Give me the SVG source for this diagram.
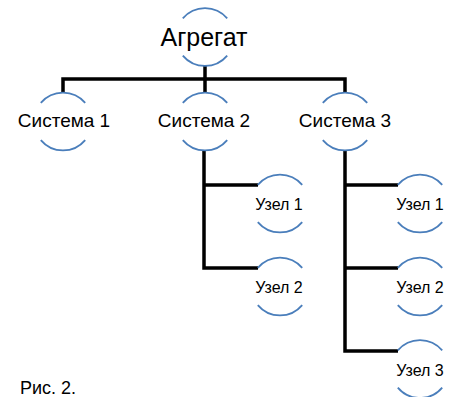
<svg xmlns="http://www.w3.org/2000/svg" width="453" height="397" viewBox="0 0 453 397">
  <style>
    .arc { fill: none; stroke: #4a7ebb; stroke-width: 1.8; }
    .conn { fill: none; stroke: #000; stroke-width: 3.5; stroke-linejoin: miter; }
    text { font-family: "Liberation Sans", Arial, sans-serif; fill: #000; text-anchor: middle; }
    .t0 { font-size: 25px; }
    .t1 { font-size: 19px; }
    .t2 { font-size: 16px; }
    .cap { font-size: 18px; text-anchor: start; }
  </style>
  <defs>
    <g id="ring">
      <path class="arc" d="M-22.2,-18.6 A29,29 0 0 1 22.2,-18.6"/>
      <path class="arc" d="M-22.2,18.6 A29,29 0 0 0 22.2,18.6"/>
    </g>
  </defs>
  <rect width="453" height="397" fill="#fff"/>
  <g id="connectors">
    <path class="conn" d="M63,92 V79 H345 V92"/>
    <path class="conn" d="M205,66 V92"/>
    <path class="conn" d="M204,151 V268 H258 M204,185 H258"/>
    <path class="conn" d="M345,151 V351 H398 M345,185 H398 M345,268 H398"/>
  </g>
  <g id="agregat">
    <use href="#ring" x="205" y="37"/>
    <text class="t0" x="204" y="46">Агрегат</text>
  </g>
  <g id="sistema1">
    <use href="#ring" x="63" y="121.5"/>
    <text class="t1" x="64" y="127">Система 1</text>
  </g>
  <g id="sistema2">
    <use href="#ring" x="205" y="121.5"/>
    <text class="t1" x="204" y="127">Система 2</text>
  </g>
  <g id="sistema3">
    <use href="#ring" x="345" y="121.5"/>
    <text class="t1" x="345" y="127">Система 3</text>
  </g>
  <g id="s2-uzel1">
    <use href="#ring" x="280" y="203.5"/>
    <text class="t2" x="279" y="210">Узел 1</text>
  </g>
  <g id="s2-uzel2">
    <use href="#ring" x="280" y="286.5"/>
    <text class="t2" x="279" y="293">Узел 2</text>
  </g>
  <g id="s3-uzel1">
    <use href="#ring" x="420" y="203.5"/>
    <text class="t2" x="420" y="210">Узел 1</text>
  </g>
  <g id="s3-uzel2">
    <use href="#ring" x="420" y="286.5"/>
    <text class="t2" x="420" y="293">Узел 2</text>
  </g>
  <g id="s3-uzel3">
    <use href="#ring" x="420" y="369"/>
    <text class="t2" x="420" y="376">Узел 3</text>
  </g>
  <text class="cap" x="20" y="394">Рис. 2.</text>
</svg>
